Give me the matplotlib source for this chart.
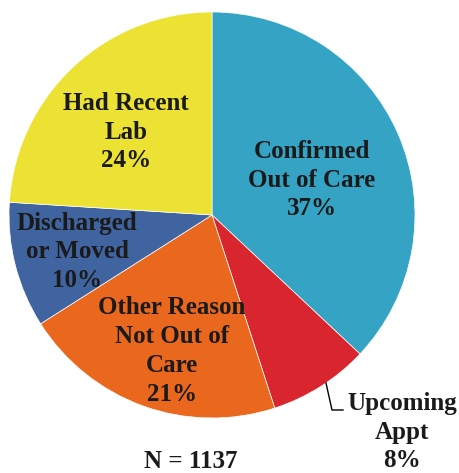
import matplotlib.pyplot as plt
from matplotlib.lines import Line2D

categories = ["Confirmed\nOut of Care", "Upcoming\nAppt", "Other Reason\nNot Out of\nCare",
              "Discharged\nor Moved", "Had Recent\nLab"]
shares = [37, 8, 21, 10, 24]
colors = ["#34A3C4", "#D9262E", "#EA671E", "#3F64A0", "#EBE233"]
n_total = 1137

W, H = 460, 473
fig = plt.figure(figsize=(W / 100, H / 100), dpi=100)
ax = fig.add_axes([0, 0, 1, 1])

cx, cy, r = 212, H - 215, 203
ax.pie(shares, colors=colors, startangle=90, counterclock=False,
       center=(cx, cy), radius=r, frame=True,
       wedgeprops=dict(edgecolor="white", linewidth=0.5))
ax.set_xlim(0, W)
ax.set_ylim(0, H)
ax.set_aspect("equal")
ax.axis("off")

font = dict(family="Liberation Serif", weight="bold", size=18,
            color="#1a1a1a", ha="center", va="center", linespacing=1.32)

# label anchor points in pixels (x, y from top)
label_xy = [(312, 180), (402, 432), (172, 351), (77, 252), (126, 132)]
for name, pct, (px, py) in zip(categories, shares, label_xy):
    ax.text(px, H - py, f"{name}\n{pct}%", **font)

ax.add_line(Line2D([326, 332, 343], [H - 383, H - 410, H - 410],
                   color="black", linewidth=1.0))

ax.text(191, H - 462, f"N = {n_total}", **font)

fig.savefig("out.png", dpi=100)
